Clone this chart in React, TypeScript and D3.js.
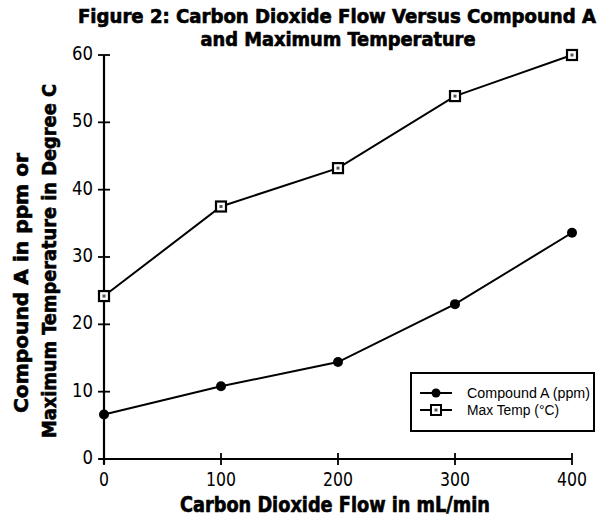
import React from "react";
import * as d3 from "d3";

const flows = [0, 100, 200, 300, 400];
const compoundA = [6.6, 10.8, 14.4, 23.0, 33.6];
const maxTemp = [24.2, 37.5, 43.2, 53.9, 60.0];
const xTicks = [0, 100, 200, 300, 400];
const yTicks = [0, 10, 20, 30, 40, 50, 60];
const titleLines = ["Figure 2: Carbon Dioxide Flow Versus Compound A", "and Maximum Temperature"];
const yLabelLines = ["Compound A in ppm or", "Maximum Temperature in Degree C"];
const xLabel = "Carbon Dioxide Flow in mL/min";
const legendLabels = ["Compound A (ppm)", "Max Temp (°C)"];

export default function App() {
  const x = d3.scaleLinear().domain([0, 400]).range([104, 572]);
  const y = d3.scaleLinear().domain([0, 60]).range([459, 55]);
  const line = d3
    .line<number>()
    .x((_, i) => x(flows[i]))
    .y((d) => y(d));
  const boldFont = "'DejaVu Sans Condensed', 'Liberation Sans Narrow', Arial, sans-serif";
  const tickFont = "'Liberation Sans Narrow', 'DejaVu Sans Condensed', Arial, sans-serif";
  const plainFont = "'Liberation Sans Narrow', 'Liberation Sans', Arial, sans-serif";
  const heavy = { fontFamily: boldFont, fontWeight: "bold" as const, stroke: "#000", strokeWidth: 0.6 };
  return (
    <svg width={598} height={521} style={{ position: "absolute", left: 0, top: 0, background: "#fff" }}>
      <rect width={598} height={521} fill="#fff" />
      {/* title */}
      <text x={337} y={23} textAnchor="middle" {...heavy} fontSize={19}
        textLength={518} lengthAdjust="spacingAndGlyphs">{titleLines[0]}</text>
      <text x={338} y={46} textAnchor="middle" {...heavy} fontSize={19}
        textLength={275} lengthAdjust="spacingAndGlyphs">{titleLines[1]}</text>
      {/* y label */}
      <text transform={`translate(28,283) rotate(-90)`} textAnchor="middle" {...heavy}
        fontSize={19} textLength={260} lengthAdjust="spacingAndGlyphs">{yLabelLines[0]}</text>
      <text transform={`translate(56,261) rotate(-90)`} textAnchor="middle" {...heavy}
        fontSize={19} textLength={354} lengthAdjust="spacingAndGlyphs">{yLabelLines[1]}</text>
      {/* x label */}
      <text x={335} y={512} textAnchor="middle" {...heavy} fontSize={21}
        textLength={310} lengthAdjust="spacingAndGlyphs">{xLabel}</text>
      {/* axes */}
      <line x1={x(0)} x2={x(0)} y1={y(60)} y2={y(0) + 5} stroke="#000" strokeWidth={2.2} />
      <line x1={x(0) - 5} x2={x(400)} y1={y(0)} y2={y(0)} stroke="#000" strokeWidth={2.2} />
      {yTicks.map((t) => (
        <g key={"y" + t}>
          <line x1={x(0) - 6} x2={x(0) + 6} y1={y(t)} y2={y(t)} stroke="#000" strokeWidth={1.8} />
          <text x={x(0) - 11} y={y(t) + 5} textAnchor="end" fontFamily={tickFont} fontSize={19}
            textLength={String(t).length * 10.5} lengthAdjust="spacingAndGlyphs">{t}</text>
        </g>
      ))}
      {xTicks.map((t) => (
        <g key={"x" + t}>
          <line x1={x(t)} x2={x(t)} y1={y(0) - 6} y2={y(0) + 6} stroke="#000" strokeWidth={1.8} />
          <text x={x(t)} y={y(0) + 27} textAnchor="middle" fontFamily={tickFont} fontSize={19}
            textLength={String(t).length * 10} lengthAdjust="spacingAndGlyphs">{t}</text>
        </g>
      ))}
      {/* series */}
      <path d={line(compoundA) || ""} fill="none" stroke="#000" strokeWidth={2} />
      <path d={line(maxTemp) || ""} fill="none" stroke="#000" strokeWidth={2} />
      {compoundA.map((v, i) => (
        <circle key={"c" + i} cx={x(flows[i])} cy={y(v)} r={5} fill="#000" />
      ))}
      {maxTemp.map((v, i) => (
        <g key={"s" + i}>
          <rect x={x(flows[i]) - 5} y={y(v) - 5} width={10} height={10} fill="#fff" stroke="#000" strokeWidth={2.2} />
          <rect x={x(flows[i]) - 1.5} y={y(v) - 1.5} width={3} height={3} fill="#555" />
        </g>
      ))}
      {/* legend */}
      <rect x={411} y={373} width={183} height={58} fill="#fff" stroke="#000" strokeWidth={2} />
      <line x1={420} x2={452} y1={393} y2={393} stroke="#000" strokeWidth={2} />
      <circle cx={436} cy={393} r={4.5} fill="#000" />
      <text x={467} y={398} fontFamily={plainFont} fontSize={14} textLength={123} lengthAdjust="spacingAndGlyphs">{legendLabels[0]}</text>
      <line x1={420} x2={452} y1={410} y2={410} stroke="#000" strokeWidth={2} />
      <rect x={431} y={405} width={10} height={10} fill="#fff" stroke="#000" strokeWidth={2} />
      <rect x={434.5} y={408.5} width={3} height={3} fill="#555" />
      <text x={467} y={415} fontFamily={plainFont} fontSize={14} textLength={92} lengthAdjust="spacingAndGlyphs">{legendLabels[1]}</text>
    </svg>
  );
}
